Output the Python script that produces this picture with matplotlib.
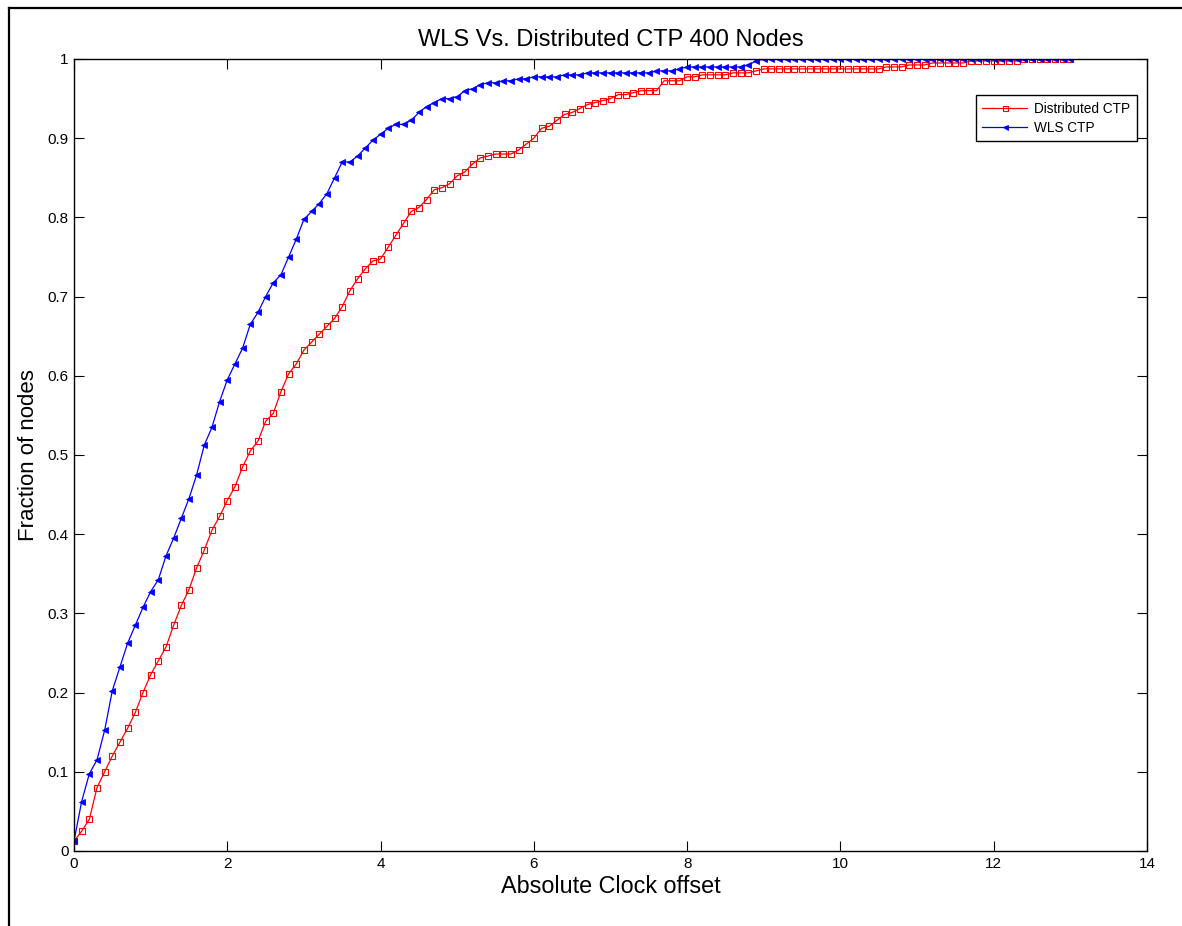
import numpy as np
import matplotlib
matplotlib.use("Agg")
import matplotlib.pyplot as plt
from matplotlib.lines import Line2D

plt.rcParams['font.family'] = ['Liberation Sans', 'DejaVu Sans']

title = "WLS Vs. Distributed CTP 400 Nodes"
xlabel = "Absolute Clock offset"
ylabel = "Fraction of nodes"
series_names = ["Distributed CTP", "WLS CTP"]

offsets = np.linspace(0, 13, 131)

distributed_ctp = [
    0.0125, 0.025, 0.04, 0.08, 0.10, 0.12, 0.1375, 0.155, 0.175, 0.20,
    0.2225, 0.24, 0.2575, 0.285, 0.31, 0.33, 0.3575, 0.38, 0.405, 0.4225,
    0.4425, 0.46, 0.485, 0.505, 0.5175, 0.5425, 0.5525, 0.58, 0.6025, 0.615,
    0.6325, 0.6425, 0.6525, 0.6625, 0.6725, 0.6875, 0.7075, 0.7225, 0.735, 0.745,
    0.7475, 0.7625, 0.7775, 0.7925, 0.8075, 0.8125, 0.8225, 0.835, 0.8375, 0.8425,
    0.8525, 0.8575, 0.8675, 0.875, 0.8775, 0.88, 0.88, 0.88, 0.885, 0.8925,
    0.90, 0.9125, 0.915, 0.9225, 0.93, 0.9325, 0.9375, 0.9425, 0.945, 0.9475,
    0.95, 0.955, 0.955, 0.9575, 0.96, 0.96, 0.96, 0.9725, 0.9725, 0.9725,
    0.9775, 0.9775, 0.98, 0.98, 0.98, 0.98, 0.9825, 0.9825, 0.9825, 0.985,
    0.9875, 0.9875, 0.9875, 0.9875, 0.9875, 0.9875, 0.9875, 0.9875, 0.9875, 0.9875,
    0.9875, 0.9875, 0.9875, 0.9875, 0.9875, 0.9875, 0.99, 0.99, 0.99, 0.9925,
    0.9925, 0.9925, 0.995, 0.995, 0.995, 0.995, 0.995, 0.9975, 0.9975, 0.9975,
    0.9975, 0.9975, 0.9975, 0.9975, 1.0, 1.0, 1.0, 1.0, 1.0, 1.0,
    1.0,
]

wls_ctp = [
    0.0125, 0.0625, 0.0975, 0.115, 0.1525, 0.2025, 0.2325, 0.2625, 0.285, 0.3075,
    0.3275, 0.3425, 0.3725, 0.395, 0.42, 0.445, 0.475, 0.5125, 0.535, 0.5675,
    0.595, 0.615, 0.635, 0.665, 0.68, 0.70, 0.7175, 0.7275, 0.75, 0.7725,
    0.7975, 0.8075, 0.8175, 0.83, 0.85, 0.87, 0.87, 0.8775, 0.8875, 0.8975,
    0.905, 0.9125, 0.9175, 0.9175, 0.9225, 0.9325, 0.94, 0.945, 0.95, 0.95,
    0.9525, 0.96, 0.9625, 0.9675, 0.97, 0.97, 0.9725, 0.9725, 0.975, 0.975,
    0.9775, 0.9775, 0.9775, 0.9775, 0.98, 0.98, 0.98, 0.9825, 0.9825, 0.9825,
    0.9825, 0.9825, 0.9825, 0.9825, 0.9825, 0.9825, 0.985, 0.985, 0.985, 0.9875,
    0.99, 0.99, 0.99, 0.99, 0.99, 0.99, 0.99, 0.99, 0.9925, 0.9975,
    1.0, 1.0, 1.0, 1.0, 1.0, 1.0, 1.0, 1.0, 1.0, 1.0,
    1.0, 1.0, 1.0, 1.0, 1.0, 1.0, 1.0, 1.0, 1.0, 1.0,
    1.0, 1.0, 1.0, 1.0, 1.0, 1.0, 1.0, 1.0, 1.0, 1.0,
    1.0, 1.0, 1.0, 1.0, 1.0, 1.0, 1.0, 1.0, 1.0, 1.0,
    1.0,
]

xticks = [0, 2, 4, 6, 8, 10, 12, 14]
yticks = [0, 0.1, 0.2, 0.3, 0.4, 0.5, 0.6, 0.7, 0.8, 0.9, 1]
ytick_labels = ["0", "0.1", "0.2", "0.3", "0.4", "0.5", "0.6", "0.7", "0.8", "0.9", "1"]

W, H = 1182, 926
fig = plt.figure(figsize=(W / 100, H / 100), dpi=100)
ax = fig.add_axes([74 / W, 1 - 851 / H, (1147 - 74) / W, (851 - 59) / H])

ax.plot(offsets, distributed_ctp, color='#ff0000', lw=0.9, marker='s', ms=4.0,
        mfc='none', mec='#ff0000', mew=0.8, label=series_names[0])
ax.plot(offsets, wls_ctp, color='#0000ff', lw=0.9, marker='<', ms=4.0,
        mfc='#0000ff', mec='#0000ff', mew=0.6, label=series_names[1])

ax.set_xlim(0, 14)
ax.set_ylim(0, 1)
ax.set_xticks(xticks)
ax.set_xticklabels([str(t) for t in xticks])
ax.set_yticks(yticks)
ax.set_yticklabels(ytick_labels)
ax.tick_params(direction='in', top=True, right=True, length=7, width=0.8,
               labelsize=11, pad=4)
for s in ax.spines.values():
    s.set_linewidth(1.0)

ax.set_title(title, fontsize=17, pad=9)
ax.set_xlabel(xlabel, fontsize=16.8, labelpad=3)
ax.set_ylabel(ylabel, fontsize=16, labelpad=6)

leg = ax.legend(loc='upper right', bbox_to_anchor=(0.9907, 0.9545), fontsize=9.8,
                frameon=True, fancybox=False, edgecolor='black', framealpha=1,
                handlelength=3.3, borderpad=0.5, labelspacing=0.35,
                handletextpad=0.5, markerscale=0.9, borderaxespad=0)
leg.get_frame().set_linewidth(1.0)

# outer frame
fig.add_artist(Line2D([9 / W, 9 / W], [0, 1 - 8 / H], color='black', lw=1.6,
                      transform=fig.transFigure))
fig.add_artist(Line2D([9 / W, 1], [1 - 8 / H, 1 - 8 / H], color='black', lw=1.6,
                      transform=fig.transFigure))

fig.savefig("out.png", dpi=100, facecolor='white')
